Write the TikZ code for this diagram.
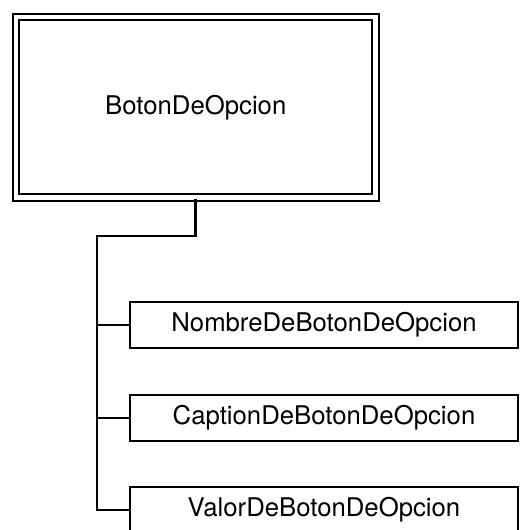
\documentclass[tikz,border=0pt]{standalone}
\usepackage{fontspec}
\setmainfont{TeX Gyre Heros}
\tikzset{
  mainbox/.style={draw, double, double distance=3.4pt, line width=1.6pt,
    minimum width=269.6pt, minimum height=135.4pt, inner sep=0pt},
  itembox/.style={draw, line width=1.2pt, minimum width=291pt,
    minimum height=34.5pt, inner sep=0pt},
  link/.style={line width=1.6pt},
  heavylink/.style={line width=2.2pt}
}
\begin{document}
\begin{tikzpicture}[x=0.75pt, y=-0.75pt, font=\fontsize{19.3}{22}\selectfont, line join=miter]
	\clip (0,0) rectangle (520,530);
	\node[mainbox] (opcion) at (195.75,107.25) {BotonDeOpcion};
	\foreach \n/\y/\t in {nombre/325/NombreDeBotonDeOpcion, caption/418/CaptionDeBotonDeOpcion, valor/510/ValorDeBotonDeOpcion}
	\node[itembox] (\n) at (324,\y) {\t};
	\coordinate (knee) at (97,236);
	\draw[heavylink] (opcion.south) |- (knee) -- (knee |- nombre.west) -- (nombre.west);
	\draw[link] (knee |- nombre.west) -- (knee |- valor.west) -- (valor.west);
	\draw[link] (knee |- caption.west) -- (caption.west);
\end{tikzpicture}
\end{document}
